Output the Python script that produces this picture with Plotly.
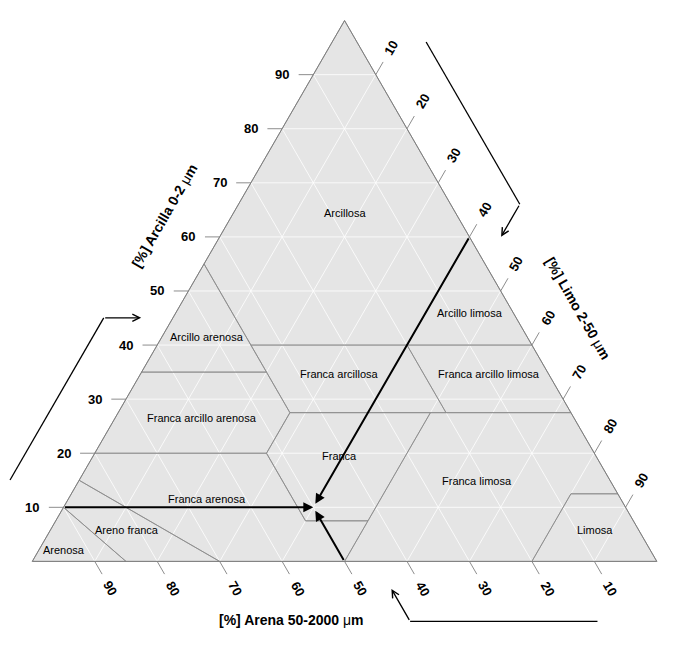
import numpy as np
import plotly.graph_objects as go

# ---------------- data ----------------
grid_levels = [10, 20, 30, 40, 50, 60, 70, 80, 90]
clay_tick_labels = ["10", "20", "30", "40", "50", "60", "70", "80", "90"]
silt_tick_labels = ["10", "20", "30", "40", "50", "60", "70", "80", "90"]
sand_tick_labels = ["10", "20", "30", "40", "50", "60", "70", "80", "90"]

# USDA texture classes, vertices as (clay, silt, sand) in %
ARCILLOSA = [(100, 0, 0), (60, 40, 0), (40, 40, 20), (40, 15, 45), (55, 0, 45)]
ARCILLO_ARENOSA = [(55, 0, 45), (35, 20, 45), (35, 0, 65)]
ARCILLO_LIMOSA = [(60, 40, 0), (40, 60, 0), (40, 40, 20)]
FRANCA_ARCILLOSA = [(40, 40, 20), (40, 15, 45), (27.5, 27.5, 45), (27.5, 52.5, 20)]
FRANCA_ARCILLO_LIMOSA = [(40, 60, 0), (40, 40, 20), (27.5, 52.5, 20), (27.5, 72.5, 0)]
FRANCA_ARCILLO_ARENOSA = [(35, 20, 45), (35, 0, 65), (20, 0, 80), (20, 27.5, 52.5), (27.5, 27.5, 45)]
FRANCA = [(27.5, 27.5, 45), (20, 27.5, 52.5), (7.5, 40, 52.5), (7.5, 50, 42.5), (27.5, 50, 22.5)]
FRANCA_LIMOSA = [(27.5, 72.5, 0), (27.5, 50, 22.5), (7.5, 50, 42.5), (0, 50, 50), (0, 80, 20),
                 (12.5, 80, 7.5), (12.5, 87.5, 0)]
LIMOSA = [(12.5, 87.5, 0), (12.5, 80, 7.5), (0, 80, 20), (0, 100, 0)]
FRANCA_ARENOSA = [(20, 0, 80), (20, 27.5, 52.5), (7.5, 40, 52.5), (7.5, 50, 42.5), (0, 50, 50),
                  (0, 30, 70), (15, 0, 85)]
ARENO_FRANCA = [(15, 0, 85), (0, 30, 70), (0, 15, 85), (10, 0, 90)]
ARENOSA = [(10, 0, 90), (0, 15, 85), (0, 0, 100)]

class_names = ["Arcillosa", "Arcillo limosa", "Arcillo arenosa", "Franca arcillosa",
               "Franca arcillo limosa", "Franca arcillo arenosa", "Franca", "Franca limosa",
               "Franca arenosa", "Areno franca", "Arenosa", "Limosa"]
label_clay = [64.4, 45.9, 41.5, 34.6, 34.6, 26.5, 19.5, 14.9, 11.5, 5.75, 2.2, 5.75]
label_silt = [17.9, 47.1, 7.25, 31.9, 55.8, 13.9, 39.4, 63.7, 22.3, 12.3, 3.9, 87.3]

# example soil sample
sample_clay = 10
sample_silt = 40
sample_sand = 50

clay_title = "<b>[%] Arcilla 0-2 </b>μ<b>m</b>"
silt_title = "<b>[%] Limo 2-50 </b>μ<b>m</b>"
sand_title = "<b>[%] Arena 50-2000 </b>μ<b>m</b>"

# ---------------- helpers ----------------
S = np.sqrt(3) / 2
FONT = "Liberation Sans, Arial, sans-serif"


def tern(clay, silt):
    return silt + clay / 2.0, clay * S


def seg_trace(xs, ys, color, width):
    return go.Scatter(x=xs, y=ys, mode="lines", line=dict(color=color, width=width),
                      hoverinfo="skip", showlegend=False)


fig = go.Figure()

# triangle background
tx, ty = zip(*[tern(c, s) for c, s in [(0, 100), (0, 0), (100, 0), (0, 100)]])
fig.add_trace(go.Scatter(x=tx, y=ty, mode="lines", fill="toself", fillcolor="#E5E5E5",
                         line=dict(width=0), hoverinfo="skip", showlegend=False))

# white grid
gx, gy = [], []
for v in grid_levels:
    for (c1, s1), (c2, s2) in [((v, 0), (v, 100 - v)),
                               ((0, v), (100 - v, v)),
                               ((0, 100 - v), (100 - v, 0))]:
        x1, y1 = tern(c1, s1)
        x2, y2 = tern(c2, s2)
        gx += [x1, x2, None]
        gy += [y1, y2, None]
fig.add_trace(seg_trace(gx, gy, "#FFFFFF", 0.8))

# class boundaries
bx, by = [], []
for poly in [ARCILLOSA, ARCILLO_ARENOSA, ARCILLO_LIMOSA, FRANCA_ARCILLOSA, FRANCA_ARCILLO_LIMOSA,
             FRANCA_ARCILLO_ARENOSA, FRANCA, FRANCA_LIMOSA, LIMOSA, FRANCA_ARENOSA,
             ARENO_FRANCA, ARENOSA]:
    pts = poly + [poly[0]]
    for c, s, _ in pts:
        x, y = tern(c, s)
        bx.append(x)
        by.append(y)
    bx.append(None)
    by.append(None)
fig.add_trace(seg_trace(bx, by, "#8A8A8A", 0.8))

# outline
fig.add_trace(seg_trace(list(tx), list(ty), "#7A7A7A", 0.9))

# ticks and tick labels
TL = 2.35   # tick length (data units)
LD = 5.0    # label distance
dirs = {
    "clay": (-1.0, 0.0),
    "silt": (0.5, S),
    "sand": (0.5, -S),
}
kx, ky = [], []
annotations = []
for i, v in enumerate(grid_levels):
    for axis, (c, s), lab, ang in [("clay", (v, 0), clay_tick_labels[i], 0),
                                   ("silt", (100 - v, v), silt_tick_labels[i], -60),
                                   ("sand", (0, 100 - v), sand_tick_labels[i], 60)]:
        x0, y0 = tern(c, s)
        dx, dy = dirs[axis]
        kx += [x0, x0 + TL * dx, None]
        ky += [y0, y0 + TL * dy, None]
        annotations.append(dict(x=x0 + LD * dx, y=y0 + LD * dy, xref="x", yref="y",
                                text="<b>%s</b>" % lab, showarrow=False, textangle=ang,
                                font=dict(family=FONT, size=13, color="#000000"),
                                xanchor="center", yanchor="middle"))
fig.add_trace(seg_trace(kx, ky, "#808080", 0.9))

# class labels
for name, c, s in zip(class_names, label_clay, label_silt):
    x, y = tern(c, s)
    annotations.append(dict(x=x, y=y, xref="x", yref="y", text=name, showarrow=False,
                            font=dict(family=FONT, size=11, color="#000000"),
                            xanchor="center", yanchor="middle"))

# edges: start vertex, direction angle, title, title angle
edges = [
    ((0.0, 0.0), 60.0, clay_title, -60),       # left edge (clay)
    ((50.0, 100 * S), -60.0, silt_title, 60),  # right edge (silt)
    ((100.0, 0.0), 180.0, sand_title, 0),      # bottom edge (sand)
]
for (vx, vy), th, title, tang in edges:
    t = np.radians(th)
    d = np.array([np.cos(t), np.sin(t)])
    n = np.array([np.cos(t + np.pi / 2), np.sin(t + np.pi / 2)])
    v0 = np.array([vx, vy])
    # axis title
    p = v0 + 58.5 * d + 9.4 * n
    annotations.append(dict(x=p[0], y=p[1], xref="x", yref="y", text=title, showarrow=False,
                            textangle=tang, font=dict(family=FONT, size=14, color="#000000"),
                            xanchor="center", yanchor="middle"))
    # reading-direction arrow
    a0 = v0 + 9.5 * d + 9.6 * n
    a1 = a0 + 30.0 * d
    t2 = t - np.pi / 3
    a2 = a1 + 6.0 * np.array([np.cos(t2), np.sin(t2)])
    fig.add_trace(seg_trace([a0[0], a1[0]], [a0[1], a1[1]], "#000000", 1.3))
    annotations.append(dict(x=a2[0], y=a2[1], ax=a1[0], ay=a1[1], xref="x", yref="y",
                            axref="x", ayref="y", text="", showarrow=True, arrowhead=5,
                            arrowsize=1.1, arrowwidth=1.3, arrowcolor="#000000"))

# sample point arrows
px, py = tern(sample_clay, sample_silt)
starts = [
    (tern(sample_clay, 0), 0),                    # from clay axis
    (tern(100 - sample_silt, sample_silt), 4),    # from silt axis
    (tern(0, 100 - sample_sand), 4),              # from sand axis
]
for (sx, sy), so in starts:
    annotations.append(dict(x=px, y=py, ax=sx, ay=sy, xref="x", yref="y", axref="x", ayref="y",
                            text="", showarrow=True, arrowhead=2, arrowsize=1, arrowwidth=2,
                            arrowcolor="#000000", standoff=so))

SC = 6.245
fig.update_layout(
    width=689, height=654,
    margin=dict(l=0, r=0, t=0, b=0),
    paper_bgcolor="white", plot_bgcolor="white",
    xaxis=dict(visible=False, range=[-32.3 / SC, (689 - 32.3) / SC], fixedrange=True),
    yaxis=dict(visible=False, range=[(561.4 - 654) / SC, 561.4 / SC], fixedrange=True),
    annotations=annotations,
    showlegend=False,
)

fig.write_html("out.html")
